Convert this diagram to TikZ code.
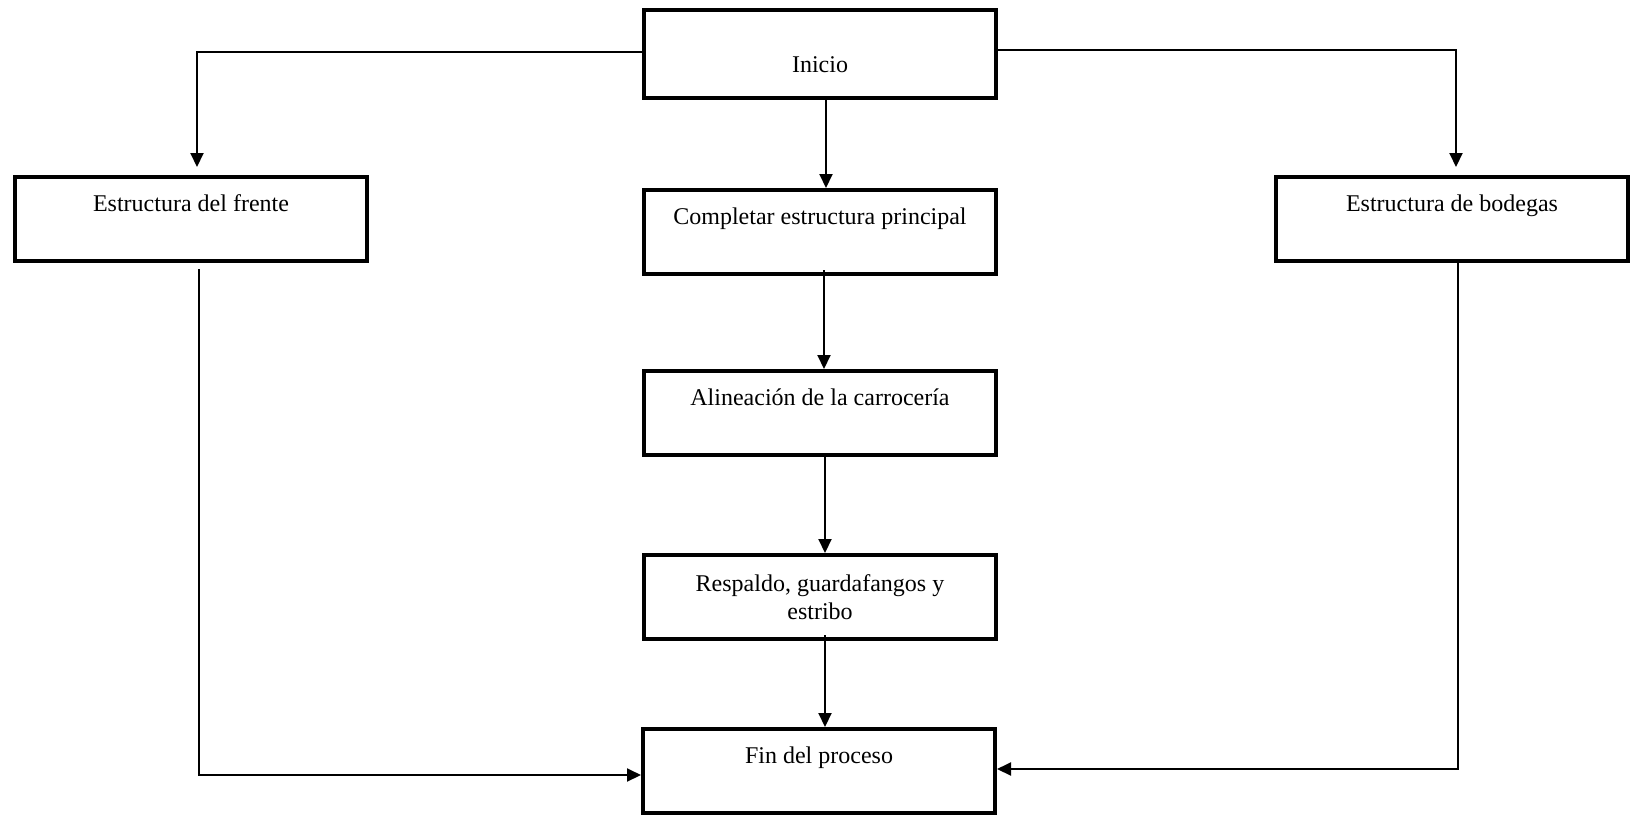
\documentclass[tikz,border=0pt]{standalone}
\usepackage{fontspec}
\setmainfont{Liberation Serif}
\usetikzlibrary{positioning}
\usetikzlibrary{arrows.meta}

\begin{document}
\begin{tikzpicture}[
    x=0.5pt, y=-0.5pt,
    box/.style={draw,line width=2pt,minimum width=176pt,minimum height=42pt,inner sep=0pt,align=center,font=\fontsize{12}{14}\selectfont},
    upper/.style={text height=9pt,text depth=17pt},
    flow/.style={line width=1pt,-{Triangle[width=6.5pt,length=7pt]}}
    ]
    \useasboundingbox (0,0) rectangle (1630,816);

    \node[box, minimum height=44pt, text height=20pt, text depth=2pt] (inicio) at (820,54) {Inicio};
    \node[box, upper] (completar) at (820,232) {Completar estructura principal};
    \node[box, upper] (frente) at (191,219) {Estructura del frente};
    \node[box, upper] (bodegas) at (1452,219) {Estructura de bodegas};
    \node[box, upper] (alineacion) at (820,413) {Alineación de la carrocería};
    \node[box] (respaldo) at (820,597) {Respaldo, guardafangos y\\estribo};
    \node[box, upper] (fin) at (819,771) {Fin del proceso};

    \draw[flow, shorten >=4pt] ([yshift=1pt]inicio.west) -| ([xshift=3pt]frente.north);
    \draw[flow, shorten >=4pt] ([yshift=2pt]inicio.east) -| ([xshift=2pt]bodegas.north);
    \draw[flow] ([xshift=3pt]inicio.south) -- ([xshift=3pt]completar.north);
    \draw[flow] ([xshift=2pt,yshift=3pt]completar.south) -- ([xshift=2pt]alineacion.north);
    \draw[flow] ([xshift=2.5pt]alineacion.south) -- ([xshift=2.5pt]respaldo.north);
    \draw[flow] ([xshift=2.5pt,yshift=3pt]respaldo.south) -- ([xshift=3pt]fin.north);
    \draw[flow] ([xshift=4pt,yshift=-3pt]frente.south) |- ([yshift=-2pt]fin.west);
    \draw[flow] ([xshift=3pt]bodegas.south) |- ([yshift=1pt]fin.east);
\end{tikzpicture}
\end{document}
